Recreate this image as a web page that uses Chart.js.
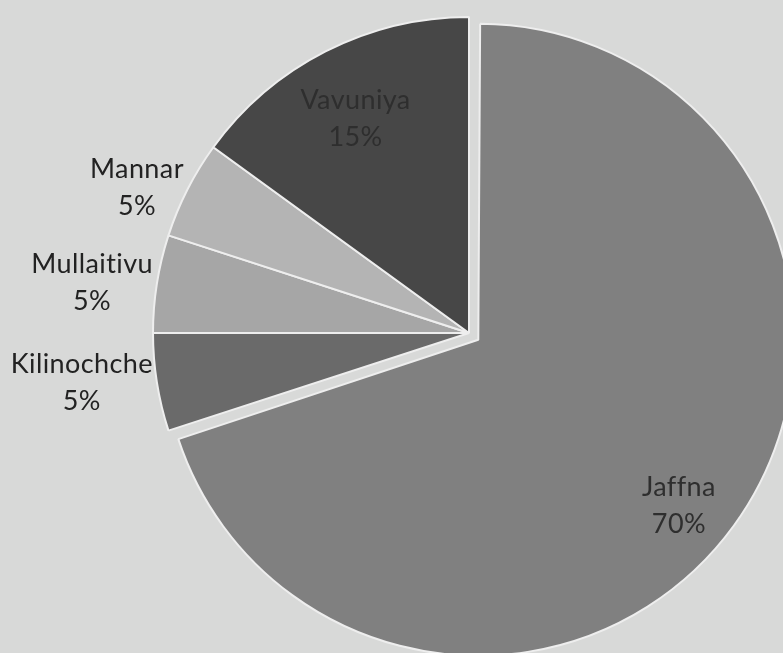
<!DOCTYPE html>
<html>
<head>
<meta charset="utf-8">
<script src="https://cdn.jsdelivr.net/npm/chart.js@4/dist/chart.umd.min.js"></script>
<style>
  html, body { margin: 0; padding: 0; background: #d8d9d8; }
  #wrap { width: 783px; height: 653px; position: relative; }
</style>
</head>
<body>
<div id="wrap"><canvas id="c" width="783" height="653"></canvas></div>
<script>
// ---- data ----
const categories = ['Jaffna', 'Kilinochche', 'Mullaitivu', 'Mannar', 'Vavuniya'];
const shares = [70, 5, 5, 5, 15];
const percentLabels = ['70%', '5%', '5%', '5%', '15%'];

// ---- styles ----
const PIE_RADIUS = 316;
const sliceColors = ['#808080', '#6a6a6a', '#a6a6a6', '#b4b4b4', '#474747'];
const sliceOffsets = [46, 0, 0, 0, 0];          // Chart.js v4 moves an arc by offset/4
const labelInside = [true, false, false, false, true];
const insideRadiusFrac = [0.82, 0, 0, 0, 0.77];
const labelNudge = [[-9, 14], [0, 0], [0, 0], [0, 0], [-3, 3]];
const FONT = '27px Lato, "Open Sans", sans-serif';
const LINE_H = 37;

// keep the exploded slice at the same radius as the others
const keepRadiusPlugin = {
  id: 'keepRadius',
  afterDatasetsUpdate(chart) {
    const meta = chart.getDatasetMeta(0);
    meta.data.forEach((arc, i) => {
      const shift = sliceOffsets[i] / 4;
      if (shift && (arc.endAngle - arc.startAngle) >= Math.PI) {
        arc.outerRadius = PIE_RADIUS - shift;
      }
    });
  }
};

const labelPlugin = {
  id: 'sliceLabels',
  afterDatasetsDraw(chart) {
    const ctx = chart.ctx;
    const meta = chart.getDatasetMeta(0);
    ctx.save();
    ctx.font = FONT;
    if ('letterSpacing' in ctx) ctx.letterSpacing = '0.4px';
    ctx.textBaseline = 'middle';
    ctx.textAlign = 'center';
    meta.data.forEach((arc, i) => {
      const p = arc.getProps(['x', 'y', 'startAngle', 'endAngle'], true);
      const mid = (p.startAngle + p.endAngle) / 2;
      const off = sliceOffsets[i] / 4;
      const cx = p.x + Math.cos(mid) * off;
      const cy = p.y + Math.sin(mid) * off;
      const lines = [categories[i], percentLabels[i]];
      const [nx, ny] = labelNudge[i];
      if (labelInside[i]) {
        const r = PIE_RADIUS * insideRadiusFrac[i];
        const x = cx + Math.cos(mid) * r + nx;
        const y = cy + Math.sin(mid) * r + ny;
        ctx.fillStyle = '#2e2e2e';
        lines.forEach((t, k) => ctx.fillText(t, x, y + (k - 0.5) * LINE_H));
      } else {
        const r = PIE_RADIUS + 4;
        const ax = cx + Math.cos(mid) * r + nx;
        const ay = cy + Math.sin(mid) * r + ny;
        const w = Math.max(...lines.map(t => ctx.measureText(t).width));
        const x = ax - w / 2;
        ctx.fillStyle = '#222222';
        lines.forEach((t, k) => ctx.fillText(t, x, ay + (k - 0.5) * LINE_H));
      }
    });
    ctx.restore();
  }
};

new Chart(document.getElementById('c'), {
  type: 'pie',
  data: {
    labels: categories,
    datasets: [{
      data: shares,
      backgroundColor: sliceColors,
      borderColor: '#eeeeee',
      borderWidth: 2,
      offset: sliceOffsets,
      radius: PIE_RADIUS,
      clip: false
    }]
  },
  options: {
    responsive: false,
    animation: false,
    radius: PIE_RADIUS,
    events: [],
    layout: { padding: { left: 155, right: 0, top: 13, bottom: 0 } },
    plugins: {
      legend: { display: false },
      tooltip: { enabled: false },
      title: { display: false }
    }
  },
  plugins: [keepRadiusPlugin, labelPlugin]
});
</script>
</body>
</html>
